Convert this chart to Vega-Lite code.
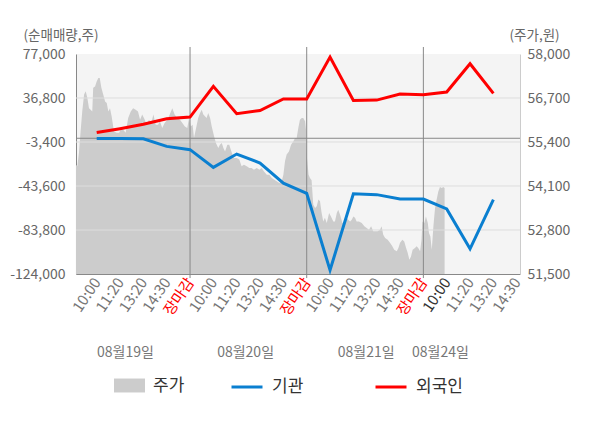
{
  "$schema": "https://vega.github.io/schema/vega-lite/v6.json",
  "width": 444,
  "height": 220,
  "autosize": {"type": "none"},
  "padding": {"left": 76, "top": 54, "right": 80, "bottom": 154},
  "background": "white",
  "config": {
    "font": "Noto Sans CJK KR",
    "view": {"fill": "#f4f4f4", "stroke": null},
    "axis": {"ticks": false, "grid": false, "labelColor": "#666666", "titleColor": "#666666", "titleFontWeight": "normal", "labelFont": "Noto Sans CJK KR", "titleFont": "Noto Sans CJK KR"},
    "legend": {"labelFont": "Noto Sans CJK KR", "labelFontSize": 17, "labelColor": "#333333"}
  },
  "datasets": {
    "price": [
      {"t":-0.89,"p":54730},{"t":-0.83,"p":54680},{"t":-0.76,"p":55080},{"t":-0.69,"p":55710},{"t":-0.62,"p":56300},{"t":-0.54,"p":56800},{"t":-0.47,"p":56900},{"t":-0.40,"p":56700},{"t":-0.33,"p":56400},{"t":-0.26,"p":56350},{"t":-0.19,"p":56300},{"t":-0.15,"p":57000},{"t":-0.07,"p":57040},{"t":0,"p":57190},{"t":0.07,"p":57290},{"t":0.13,"p":57290},{"t":0.20,"p":57000},{"t":0.28,"p":56800},{"t":0.36,"p":56600},{"t":0.43,"p":56550},{"t":0.50,"p":56300},{"t":0.57,"p":56400},{"t":0.64,"p":56160},{"t":0.74,"p":55710},{"t":0.86,"p":55670},{"t":0.96,"p":55670},{"t":1.03,"p":55760},{"t":1.14,"p":55760},{"t":1.24,"p":55670},{"t":1.35,"p":56110},{"t":1.46,"p":56300},{"t":1.56,"p":56400},{"t":1.67,"p":56350},{"t":1.77,"p":56300},{"t":1.86,"p":56060},{"t":1.95,"p":56210},{"t":2.06,"p":56060},{"t":2.14,"p":55910},{"t":2.24,"p":56060},{"t":2.34,"p":55960},{"t":2.43,"p":56210},{"t":2.53,"p":55910},{"t":2.63,"p":55910},{"t":2.71,"p":56010},{"t":2.81,"p":55810},{"t":2.91,"p":55960},{"t":3.03,"p":56060},{"t":3.13,"p":56210},{"t":3.24,"p":56400},{"t":3.34,"p":56210},{"t":3.45,"p":56110},{"t":3.57,"p":56060},{"t":3.67,"p":55960},{"t":3.78,"p":55860},{"t":3.88,"p":55810},{"t":3.96,"p":56110},{"t":4.03,"p":55860},{"t":4.11,"p":55910},{"t":4.17,"p":55520},{"t":4.26,"p":55810},{"t":4.35,"p":56110},{"t":4.43,"p":56260},{"t":4.50,"p":56350},{"t":4.57,"p":56210},{"t":4.64,"p":56160},{"t":4.71,"p":56110},{"t":4.78,"p":56260},{"t":4.86,"p":56110},{"t":4.93,"p":55860},{"t":5.03,"p":55570},{"t":5.11,"p":55370},{"t":5.21,"p":55220},{"t":5.28,"p":55320},{"t":5.36,"p":55370},{"t":5.43,"p":55220},{"t":5.50,"p":55120},{"t":5.60,"p":55320},{"t":5.68,"p":55320},{"t":5.79,"p":55080},{"t":5.88,"p":54930},{"t":6.00,"p":54930},{"t":6.11,"p":54880},{"t":6.21,"p":54680},{"t":6.31,"p":54730},{"t":6.43,"p":54680},{"t":6.54,"p":54630},{"t":6.64,"p":54630},{"t":6.74,"p":54580},{"t":6.86,"p":54630},{"t":6.97,"p":54580},{"t":7.07,"p":54630},{"t":7.17,"p":54530},{"t":7.29,"p":54430},{"t":7.40,"p":54430},{"t":7.50,"p":54340},{"t":7.60,"p":54290},{"t":7.71,"p":54240},{"t":7.83,"p":54190},{"t":7.93,"p":54240},{"t":8.00,"p":54430},{"t":8.07,"p":54830},{"t":8.14,"p":55030},{"t":8.24,"p":55120},{"t":8.33,"p":55320},{"t":8.43,"p":55420},{"t":8.50,"p":55520},{"t":8.57,"p":55520},{"t":8.64,"p":55810},{"t":8.71,"p":56060},{"t":8.79,"p":56110},{"t":8.85,"p":56110},{"t":8.93,"p":56010},{"t":8.97,"p":55760},{"t":9.01,"p":54940},{"t":9.08,"p":54430},{"t":9.14,"p":54340},{"t":9.21,"p":54270},{"t":9.28,"p":53550},{"t":9.36,"p":53450},{"t":9.43,"p":53500},{"t":9.50,"p":53700},{"t":9.57,"p":53650},{"t":9.64,"p":53300},{"t":9.71,"p":53050},{"t":9.78,"p":53160},{"t":9.86,"p":53010},{"t":9.96,"p":53300},{"t":10.04,"p":53200},{"t":10.14,"p":53050},{"t":10.21,"p":53050},{"t":10.29,"p":53300},{"t":10.35,"p":53400},{"t":10.43,"p":53250},{"t":10.53,"p":53010},{"t":10.61,"p":53010},{"t":10.71,"p":53160},{"t":10.78,"p":53100},{"t":10.86,"p":53050},{"t":10.93,"p":53100},{"t":11.00,"p":53200},{"t":11.07,"p":53160},{"t":11.14,"p":53050},{"t":11.24,"p":53050},{"t":11.36,"p":53010},{"t":11.47,"p":52910},{"t":11.57,"p":52860},{"t":11.67,"p":52810},{"t":11.76,"p":52910},{"t":11.85,"p":52760},{"t":11.96,"p":52760},{"t":12.04,"p":52760},{"t":12.14,"p":52810},{"t":12.21,"p":52910},{"t":12.28,"p":52660},{"t":12.36,"p":52560},{"t":12.47,"p":52510},{"t":12.57,"p":52420},{"t":12.67,"p":52320},{"t":12.75,"p":52220},{"t":12.86,"p":52170},{"t":12.93,"p":52270},{"t":13.00,"p":52420},{"t":13.10,"p":52510},{"t":13.18,"p":52460},{"t":13.26,"p":52270},{"t":13.33,"p":52120},{"t":13.40,"p":51920},{"t":13.47,"p":52020},{"t":13.54,"p":52220},{"t":13.64,"p":52270},{"t":13.71,"p":52320},{"t":13.78,"p":52270},{"t":13.86,"p":52170},{"t":13.92,"p":52510},{"t":13.96,"p":53050},{"t":14.04,"p":53010},{"t":14.11,"p":53200},{"t":14.19,"p":53010},{"t":14.24,"p":52710},{"t":14.30,"p":52610},{"t":14.36,"p":52220},{"t":14.43,"p":52910},{"t":14.50,"p":53450},{"t":14.57,"p":53700},{"t":14.64,"p":53940},{"t":14.71,"p":54070},{"t":14.79,"p":54040},{"t":14.85,"p":54070},{"t":14.91,"p":54040}
    ],
    "flows": [
      {"t":0,"s":"기관","v":-300},{"t":1,"s":"기관","v":-300},{"t":2,"s":"기관","v":-400},{"t":3,"s":"기관","v":-7400},{"t":4,"s":"기관","v":-10400},{"t":5,"s":"기관","v":-26600},{"t":6,"s":"기관","v":-14400},{"t":7,"s":"기관","v":-22600},{"t":8,"s":"기관","v":-41000},{"t":9,"s":"기관","v":-50300},{"t":10,"s":"기관","v":-120500},{"t":11,"s":"기관","v":-50700},{"t":12,"s":"기관","v":-51500},{"t":13,"s":"기관","v":-55500},{"t":14,"s":"기관","v":-55500},{"t":15,"s":"기관","v":-64500},{"t":16,"s":"기관","v":-101000},{"t":17,"s":"기관","v":-56100},
      {"t":0,"s":"외국인","v":5200},{"t":1,"s":"외국인","v":8800},{"t":2,"s":"외국인","v":12800},{"t":3,"s":"외국인","v":17800},{"t":4,"s":"외국인","v":19400},{"t":5,"s":"외국인","v":47400},{"t":6,"s":"외국인","v":22400},{"t":7,"s":"외국인","v":25400},{"t":8,"s":"외국인","v":35900},{"t":9,"s":"외국인","v":35900},{"t":10,"s":"외국인","v":74200},{"t":11,"s":"외국인","v":34600},{"t":12,"s":"외국인","v":34900},{"t":13,"s":"외국인","v":40400},{"t":14,"s":"외국인","v":39800},{"t":15,"s":"외국인","v":42300},{"t":16,"s":"외국인","v":68100},{"t":17,"s":"외국인","v":41000}
    ],
    "gridlines": [{"v":36800},{"v":-3400},{"v":-43600},{"v":-83800}],
    "closes": [{"t":4},{"t":9},{"t":14}]
  },
  "layer": [
    {
      "data": {"name": "price"},
      "mark": {"type": "area"},
      "encoding": {
        "x": {
          "field": "t", "type": "quantitative",
          "scale": {"domain": [-0.887, 18.141], "nice": false, "zero": false},
          "axis": {
            "orient": "bottom", "values": [1.21, 6.36, 11.53, 14.71],
            "labelExpr": "datum.value < 3 ? '08월19일' : datum.value < 9 ? '08월20일' : datum.value < 13 ? '08월21일' : '08월24일'",
            "domain": false, "labelAngle": 0, "labelBaseline": "top", "labelPadding": 71,
            "labelFontSize": 14, "labelColor": "#777777", "labelOverlap": false, "labelFlush": false, "title": null
          }
        },
        "y": {
          "field": "p", "type": "quantitative",
          "scale": {"domain": [51500, 58000], "nice": false, "zero": false},
          "axis": {
            "orient": "right", "values": [58000, 56700, 55400, 54100, 52800, 51500], "format": ",d",
            "domainColor": "#cccccc", "labelFontSize": 14, "labelPadding": 7,
            "title": "(주가,원)", "titleAngle": 0, "titleAlign": "left", "titleBaseline": "middle",
            "titleX": -11, "titleY": -19, "titleFontSize": 13.5
          }
        },
        "y2": {"datum": 51500},
        "fill": {
          "datum": "주가", "type": "nominal",
          "scale": {"range": ["#cccccc"]},
          "legend": {
            "orient": "none", "legendX": 38, "legendY": 316, "direction": "horizontal", "title": null,
            "symbolType": "M-1,-0.45H1V0.45H-1Z", "symbolSize": 961, "symbolStrokeWidth": 0, "labelOffset": 8
          }
        }
      }
    },
    {
      "data": {"name": "gridlines"},
      "mark": {"type": "rule", "color": "#dddddd", "strokeWidth": 1},
      "encoding": {
        "y": {"field": "v", "type": "quantitative", "scale": {"domain": [-124000, 77000], "nice": false, "zero": false}, "axis": null}
      }
    },
    {
      "data": {"name": "closes"},
      "mark": {"type": "rule", "color": "#888888", "strokeWidth": 1},
      "encoding": {
        "x": {"field": "t", "type": "quantitative", "axis": null},
        "y": {"datum": 83400, "type": "quantitative", "scale": {"domain": [-124000, 77000], "nice": false, "zero": false}, "axis": null},
        "y2": {"datum": -127700}
      }
    },
    {
      "data": {"values": [{"z": 0}]},
      "mark": {"type": "rule", "color": "#888888", "strokeWidth": 1},
      "encoding": {
        "y": {"field": "z", "type": "quantitative", "scale": {"domain": [-124000, 77000], "nice": false, "zero": false}, "axis": null}
      }
    },
    {
      "data": {"name": "flows"},
      "mark": {"type": "line", "strokeWidth": 3},
      "encoding": {
        "x": {
          "field": "t", "type": "quantitative",
          "axis": {
            "orient": "bottom", "values": [0,1,2,3,4,5,6,7,8,9,10,11,12,13,14,15,16,17,18],
            "labelExpr": "['10:00','11:20','13:20','14:30','장마감','10:00','11:20','13:20','14:30','장마감','10:00','11:20','13:20','14:30','장마감','10:00','11:20','13:20','14:30'][datum.value]",
            "labelAngle": -56, "labelFontSize": 15, "labelPadding": 5,
            "labelColor": {"condition": [{"test": "datum.value % 5 == 4", "value": "#ff0000"}, {"test": "datum.value == 15", "value": "#333333"}], "value": "#777777"},
            "domainColor": "#888888", "labelOverlap": false, "labelFlush": false, "title": null
          }
        },
        "y": {
          "field": "v", "type": "quantitative",
          "scale": {"domain": [-124000, 77000], "nice": false, "zero": false},
          "axis": {
            "orient": "left", "values": [77000, 36800, -3400, -43600, -83800, -124000],
            "labelExpr": "(datum.value < 0 ? '-' : '') + format(abs(datum.value), ',d')",
            "domainColor": "#888888", "labelFontSize": 14, "labelPadding": 11,
            "title": "(순매매량,주)", "titleAngle": 0, "titleAlign": "left", "titleBaseline": "middle",
            "titleX": -53, "titleY": -19, "titleFontSize": 13.5
          }
        },
        "stroke": {
          "field": "s", "type": "nominal",
          "scale": {"domain": ["기관", "외국인"], "range": ["#0a7fd0", "#ff0000"]},
          "legend": {
            "orient": "none", "legendX": 154, "legendY": 316, "direction": "horizontal", "title": null,
            "symbolType": "stroke", "symbolSize": 961, "symbolStrokeWidth": 3, "labelOffset": 8, "columnPadding": 65
          }
        }
      }
    }
  ],
  "resolve": {"scale": {"y": "independent"}, "axis": {"x": "independent"}}
}
